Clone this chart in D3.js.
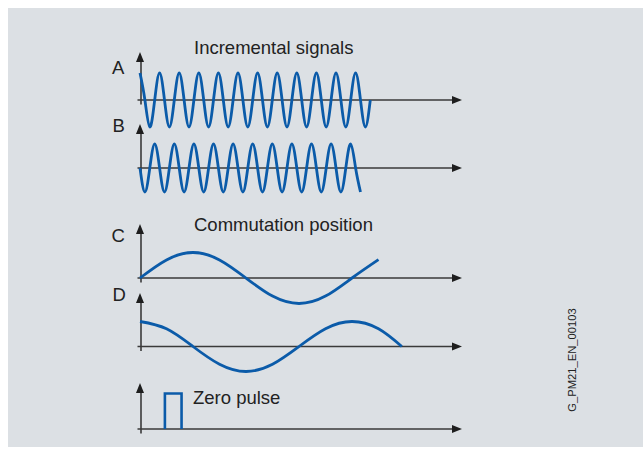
<!DOCTYPE html>
<html><head><meta charset="utf-8">
<script src="https://cdn.jsdelivr.net/npm/d3@7"></script>
<style>html,body{margin:0;padding:0;background:#fff}svg{display:block}</style>
</head><body>
<svg id="c" width="643" height="457"></svg>
<script>
// ---- data ----
// incremental signals: samples every quarter period (peaks, zero crossings, troughs)
const incStep = 0.25;
const signalA = [1,0,-1,0, 1,0,-1,0, 1,0,-1,0, 1,0,-1,0, 1,0,-1,0, 1,0,-1,0,
                 1,0,-1,0, 1,0,-1,0, 1,0,-1,0, 1,0,-1,0, 1,0,-1,0, 1,0,-1,0];
const signalB = [0,-1,0,1, 0,-1,0,1, 0,-1,0,1, 0,-1,0,1, 0,-1,0,1, 0,-1,0,1,
                 0,-1,0,1, 0,-1,0,1, 0,-1,0,1, 0,-1,0,1, 0,-1,0,1, 0,-1];
// commutation signals (position in commutation periods)
const commTC = [0, 0.125, 0.25, 0.375, 0.5, 0.625, 0.75, 0.875, 1, 1.125];
const signalC = [0, 0.71, 1, 0.71, 0, -0.71, -1, -0.71, 0, 0.72];
const commTD = [0, 0.125, 0.25, 0.375, 0.5, 0.625, 0.75, 0.875, 1, 1.125, 1.235];
const signalD = [1, 0.71, 0, -0.71, -1, -0.71, 0, 0.71, 1, 0.71, 0];
// zero pulse (position in incremental periods)
const pulseT = [1.27, 1.27, 2.12, 2.12];
const pulseV = [0, 1, 1, 0];
const rowLabels = ["A", "B", "C", "D"];
const titles = ["Incremental signals", "Commutation position", "Zero pulse"];
const figureId = "G_PM21_EN_00103";

// ---- layout ----
const svg = d3.select("#c");
const BLUE = "#0b5ba9", AXIS = "#3a3a3a", TEXT = "#222";
const FONT = "'Liberation Sans', Arial, sans-serif";

svg.append("rect").attr("x", 8).attr("y", 8).attr("width", 635).attr("height", 439).attr("fill", "#dce0e4");

const x0 = 140, xEnd = 462;
const xInc = d3.scaleLinear().domain([0, 1]).range([x0, x0 + 19.6]);
const xCom = d3.scaleLinear().domain([0, 1]).range([x0, x0 + 212]);

const rows = [
  {axisY: 100, tip: 52, amp: 27},
  {axisY: 168, tip: 124, amp: 24},
  {axisY: 278, tip: 224, amp: 25.5},
  {axisY: 346.5, tip: 293, amp: 25},
  {axisY: 429, tip: 383, amp: 35.5}
];
rows.forEach(r => { r.y = d3.scaleLinear().domain([-1, 1]).range([r.axisY + r.amp, r.axisY - r.amp]); });
rows[4].y = d3.scaleLinear().domain([0, 1]).range([rows[4].axisY, rows[4].axisY - rows[4].amp]);

// axes (D3 axes without ticks, plus arrowheads)
const gAx = svg.append("g");
rows.forEach(r => {
  const hx = d3.scaleLinear().domain([0, 1]).range([x0 - 3, xEnd - 8]);
  gAx.append("g").attr("transform", `translate(0,${r.axisY - 0.5})`)
    .call(d3.axisBottom(hx).tickValues([]).tickSizeOuter(0))
    .call(g => g.select(".domain").attr("stroke", AXIS).attr("stroke-width", 1.6));
  gAx.append("path").attr("d", `M${xEnd},${r.axisY} L${xEnd - 10},${r.axisY - 4} L${xEnd - 10},${r.axisY + 4} Z`).attr("fill", "#1e1e1e");
  const vy = d3.scaleLinear().domain([0, 1]).range([r.axisY + 4, r.tip + 7]);
  gAx.append("g").attr("transform", `translate(${x0 + 0.5},0)`)
    .call(d3.axisLeft(vy).tickValues([]).tickSizeOuter(0))
    .call(g => g.select(".domain").attr("stroke", AXIS).attr("stroke-width", 1.6));
  gAx.append("path").attr("d", `M${x0},${r.tip} L${x0 - 4},${r.tip + 10} L${x0 + 4},${r.tip + 10} Z`).attr("fill", "#1e1e1e");
});

// curves
const gC = svg.append("g").attr("fill", "none").attr("stroke", BLUE).attr("stroke-width", 2.8)
  .attr("stroke-linejoin", "round").attr("stroke-linecap", "butt");
const lineInc = (ys) => d3.line().x((d, i) => xInc(i * incStep)).y(d => ys(d)).curve(d3.curveNatural);
gC.append("path").attr("d", lineInc(rows[0].y)(signalA));
gC.append("path").attr("d", lineInc(rows[1].y)(signalB));
const lineCom = (ts, ys) => d3.line().x((d, i) => xCom(ts[i])).y(d => ys(d)).curve(d3.curveNatural);
gC.append("path").attr("d", lineCom(commTC, rows[2].y)(signalC));
gC.append("path").attr("d", lineCom(commTD, rows[3].y)(signalD));
gC.append("path").attr("stroke-width", 2.6).attr("stroke-linejoin", "miter")
  .attr("d", d3.line().x((d, i) => xInc(pulseT[i])).y(d => rows[4].y(d))(pulseV));

// texts
const gT = svg.append("g").attr("font-family", FONT).attr("fill", TEXT).attr("font-size", 18.5);
const labelPos = [[112, 73.5], [112.5, 132], [111.5, 242], [112.5, 300.5]];
rowLabels.forEach((t, i) => gT.append("text").attr("x", labelPos[i][0]).attr("y", labelPos[i][1]).text(t));
const titlePos = [[194, 54], [194, 231], [193, 403.5]];
titles.forEach((t, i) => gT.append("text").attr("x", titlePos[i][0]).attr("y", titlePos[i][1]).text(t));
svg.append("text").attr("transform", "translate(575.5,360) rotate(-90)").attr("text-anchor", "middle")
  .attr("font-family", FONT).attr("font-size", 11.2).attr("fill", TEXT).text(figureId);
</script>
</body></html>
